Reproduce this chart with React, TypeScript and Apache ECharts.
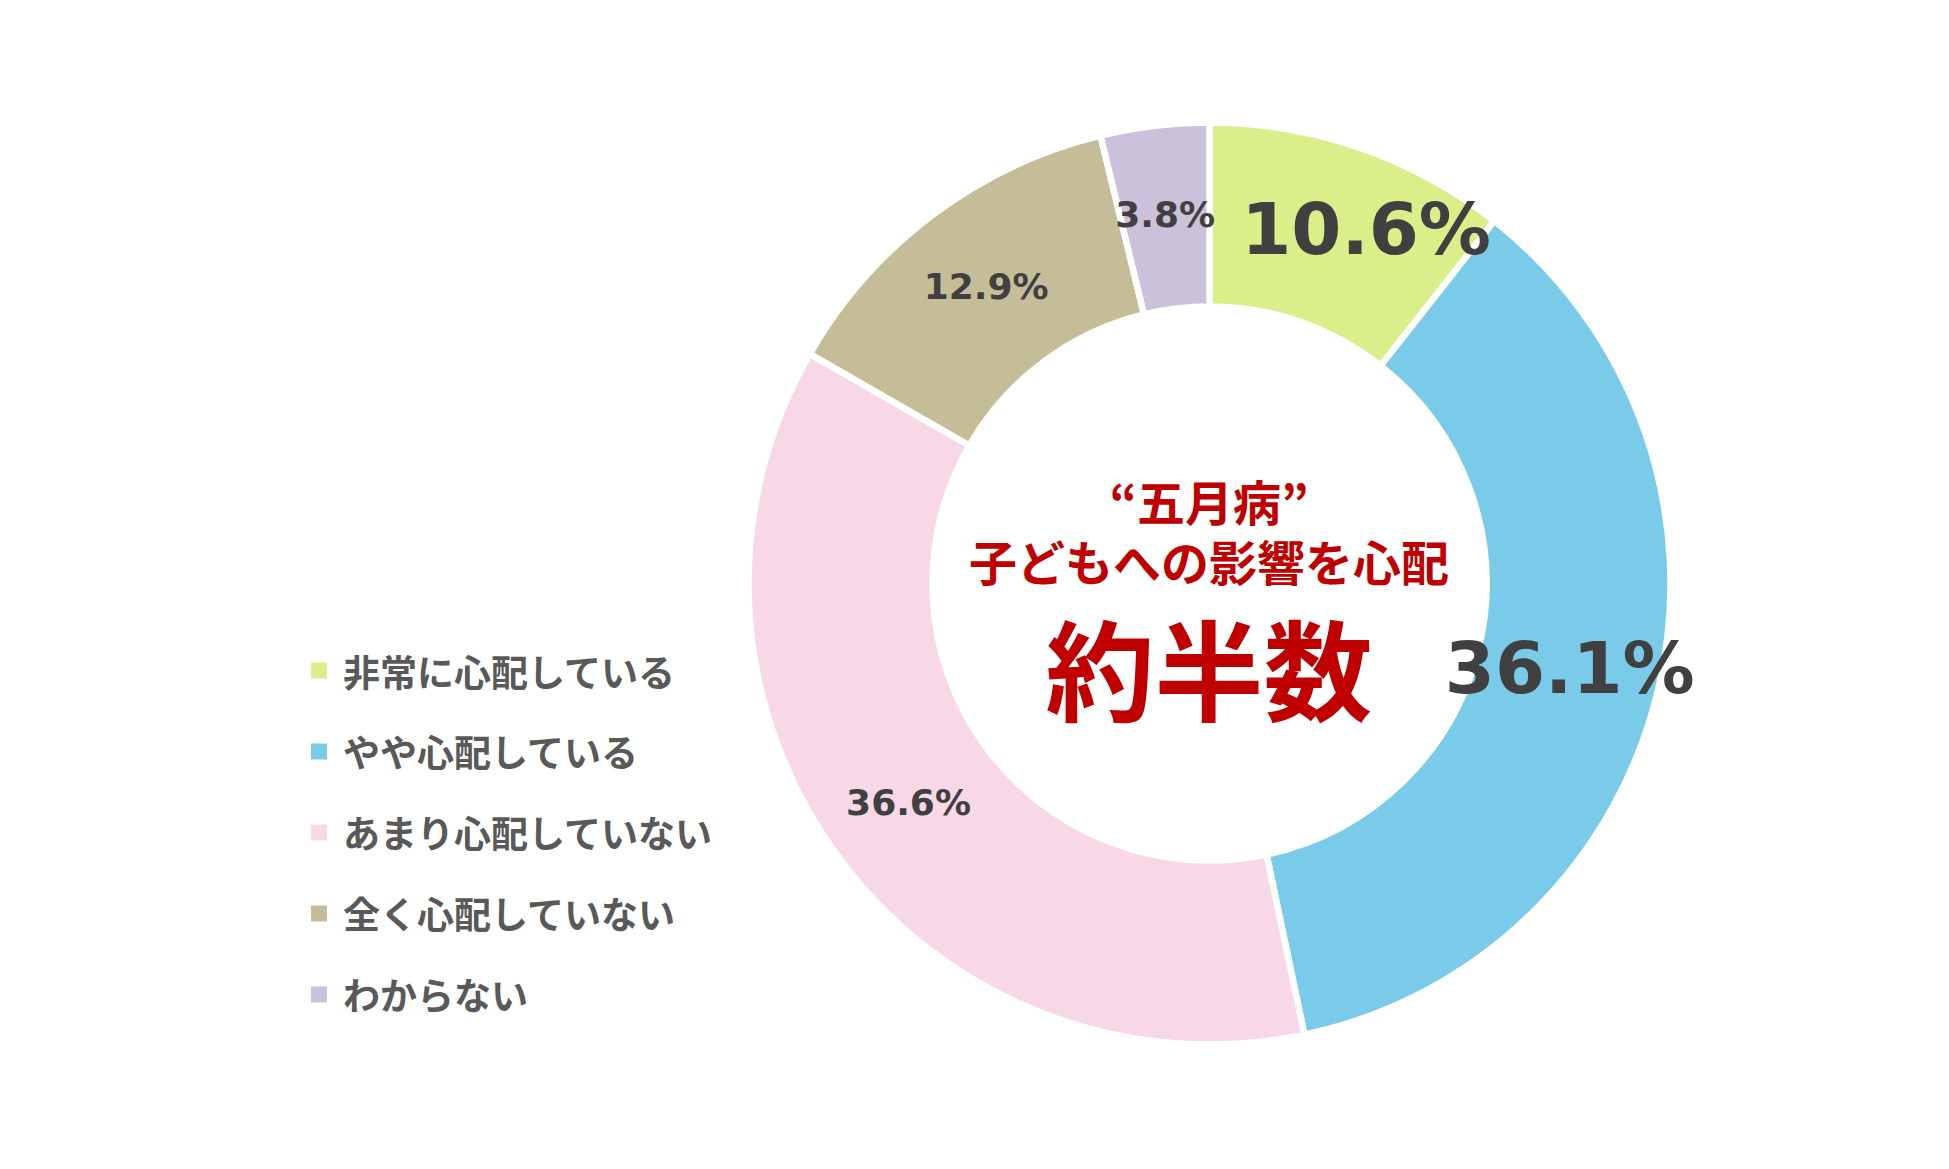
import React, { useEffect, useRef } from "react";
import * as echarts from "echarts";

const categories = ["非常に心配している", "やや心配している", "あまり心配していない", "全く心配していない", "わからない"];
const values = [10.6, 36.1, 36.6, 12.9, 3.8];
const colors = ["#DAEE8A", "#7ACAEA", "#F8D8E7", "#C4BD97", "#CCC1DA"];
const labelSizes = [72, 72, 36, 36, 36];
const labelOffsets = [[35, -3], [-2, 0], [0, 0], [0, 0], [0, 0]];
const centerLines = ["“五月病”", "子どもへの影響を心配", "約半数"];

export default function App() {
  const ref = useRef<HTMLDivElement>(null);
  useEffect(() => {
    if (!ref.current) return;
    const chart = echarts.init(ref.current, null, { renderer: "svg" });
    const data = categories.map((name, i) => ({
      name,
      value: values[i],
      itemStyle: { color: colors[i] },
      label: { fontSize: labelSizes[i], offset: labelOffsets[i] },
    }));
    chart.setOption({
      animation: false,
      backgroundColor: "#ffffff",
      legend: {
        orient: "vertical",
        left: 309,
        top: 652,
        padding: 0,
        itemWidth: 18,
        itemHeight: 18,
        itemGap: 44,
        icon: "rect",
        data: categories,
        textStyle: {
          fontFamily: "Noto Sans CJK JP",
          fontWeight: "bold",
          fontSize: 37,
          color: "#595959",
          padding: [0, 0, 0, 10],
        },
      },
      series: [
        {
          type: "pie",
          center: [1209.5, 583.5],
          radius: [277, 461],
          startAngle: 90,
          clockwise: true,
          itemStyle: { borderColor: "#ffffff", borderWidth: 6.5 },
          label: {
            show: true,
            position: "inside",
            formatter: (p: any) => p.value.toFixed(1) + "%",
            fontFamily: "DejaVu Sans",
            fontWeight: "bold",
            color: "#404040",
          },
          labelLine: { show: false },
          emphasis: { disabled: true },
          data,
        },
      ],
      graphic: [
        {
          type: "text",
          x: 1209,
          y: 530,
          style: {
            text: centerLines[0] + "\n" + centerLines[1],
            fill: "#C00000",
            font: "bold 48px 'Noto Sans CJK JP'",
            lineHeight: 60,
            textAlign: "center",
            textVerticalAlign: "middle",
          },
        },
        {
          type: "text",
          x: 1209,
          y: 665,
          style: {
            text: centerLines[2],
            fill: "#C00000",
            font: "bold 109px 'Noto Sans CJK JP'",
            lineHeight: 110,
            textAlign: "center",
            textVerticalAlign: "middle",
          },
        },
      ],
    });
    return () => chart.dispose();
  }, []);
  return (
    <div
      ref={ref}
      style={{ position: "fixed", left: 0, top: 0, width: 1949, height: 1169 }}
    />
  );
}
